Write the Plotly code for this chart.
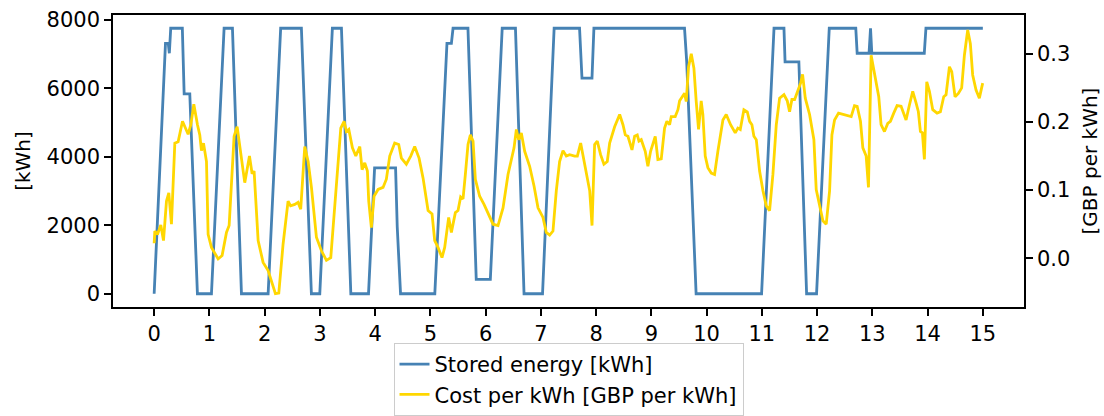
import plotly.graph_objects as go

# Stored energy [kWh] vertices (time in days)
energy_t = [0, 0.205, 0.255, 0.275, 0.30, 0.51, 0.543, 0.645, 0.783, 1.037, 1.266, 1.417, 1.58,
            2.063, 2.29, 2.665, 2.846, 2.998, 3.226, 3.39, 3.56, 3.88, 3.99, 4.37, 4.40, 4.46,
            5.08, 5.30, 5.38, 5.41, 5.68, 5.83, 6.085, 6.30, 6.54, 6.695, 7.03, 7.24, 7.70,
            7.744, 7.925, 7.96, 9.60, 9.64, 9.81, 10.995, 11.22, 11.40, 11.42, 11.67, 11.81,
            11.99, 12.22, 12.70, 12.725, 12.94, 12.967, 12.99, 13.94, 13.97, 15.0]
energy_kwh = [0, 7320, 7320, 7030, 7760, 7760, 5840, 5840, 0, 0, 7760, 7760, 0,
              0, 7760, 7760, 0, 0, 7760, 7760, 0, 0, 3680, 3680, 1950, 0,
              0, 7320, 7320, 7760, 7760, 420, 420, 7760, 7760, 0, 0, 7760, 7760,
              6300, 6300, 7760, 7760, 6770, 0, 0, 7760, 7760, 6780, 6780, 0,
              0, 7760, 7760, 7030, 7030, 7760, 7030, 7030, 7760, 7760]

# Cost per kWh [GBP per kWh] vertices
cost_t = [0, 0.012, 0.06, 0.12, 0.169, 0.223, 0.265, 0.313, 0.374, 0.434, 0.513, 0.573, 0.615,
          0.664, 0.718, 0.784, 0.826, 0.856, 0.893, 0.947, 0.977, 1.037, 1.158, 1.23, 1.309,
          1.357, 1.447, 1.502, 1.58, 1.64, 1.725, 1.773, 1.809, 1.882, 1.972, 2.063, 2.195,
          2.256, 2.334, 2.424, 2.47, 2.545, 2.605, 2.653, 2.726, 2.787, 2.847, 2.937, 3.028,
          3.118, 3.197, 3.3, 3.378, 3.438, 3.48, 3.523, 3.589, 3.65, 3.722, 3.764, 3.812,
          3.86, 3.884, 3.932, 3.98, 4.053, 4.143, 4.203, 4.264, 4.354, 4.427, 4.475, 4.565,
          4.644, 4.716, 4.795, 4.867, 4.958, 5.03, 5.078, 5.138, 5.21, 5.259, 5.331, 5.38,
          5.452, 5.5, 5.548, 5.591, 5.633, 5.681, 5.724, 5.772, 5.814, 5.892, 5.971, 6.043,
          6.134, 6.224, 6.315, 6.405, 6.466, 6.514, 6.556, 6.598, 6.646, 6.707, 6.797, 6.876,
          6.948, 7.038, 7.098, 7.159, 7.219, 7.279, 7.339, 7.4, 7.46, 7.521, 7.611, 7.66,
          7.72, 7.763, 7.823, 7.884, 7.926, 7.973, 8.021, 8.081, 8.141, 8.202, 8.245, 8.335,
          8.426, 8.486, 8.528, 8.576, 8.649, 8.697, 8.745, 8.775, 8.817, 8.889, 8.937, 8.986,
          9.07, 9.118, 9.179, 9.239, 9.281, 9.33, 9.36, 9.432, 9.481, 9.511, 9.559, 9.601,
          9.631, 9.673, 9.722, 9.77, 9.812, 9.854, 9.902, 9.932, 9.975, 10.023, 10.084,
          10.144, 10.204, 10.295, 10.355, 10.434, 10.518, 10.566, 10.609, 10.675, 10.736,
          10.778, 10.82, 10.856, 10.899, 10.959, 11.02, 11.08, 11.14, 11.2, 11.261, 11.321,
          11.4, 11.46, 11.502, 11.544, 11.593, 11.653, 11.701, 11.737, 11.786, 11.864,
          11.942, 11.984, 12.045, 12.105, 12.165, 12.226, 12.268, 12.316, 12.388, 12.497,
          12.617, 12.677, 12.725, 12.785, 12.828, 12.888, 12.93, 12.978, 13.008, 13.068,
          13.116, 13.158, 13.219, 13.279, 13.327, 13.387, 13.448, 13.52, 13.61, 13.671,
          13.731, 13.791, 13.833, 13.87, 13.906, 13.942, 13.985, 14.033, 14.093, 14.171,
          14.232, 14.292, 14.334, 14.395, 14.437, 14.497, 14.557, 14.617, 14.666, 14.726,
          14.774, 14.816, 14.877, 14.937, 14.997]
cost_gbp = [0.022, 0.040, 0.035, 0.049, 0.026, 0.084, 0.096, 0.050, 0.169, 0.171, 0.201, 0.189, 0.182,
            0.196, 0.226, 0.196, 0.181, 0.158, 0.169, 0.142, 0.035, 0.016, -0.001, 0.004, 0.038,
            0.048, 0.179, 0.193, 0.150, 0.111, 0.150, 0.124, 0.128, 0.026, -0.006, -0.018, -0.052,
            -0.051, 0.021, 0.084, 0.077, 0.079, 0.082, 0.072, 0.164, 0.142, 0.104, 0.031, 0.011,
            -0.003, 0.001, 0.104, 0.191, 0.201, 0.186, 0.189, 0.162, 0.150, 0.164, 0.130, 0.140,
            0.128, 0.084, 0.045, 0.091, 0.101, 0.104, 0.116, 0.150, 0.169, 0.167, 0.147, 0.138,
            0.150, 0.164, 0.147, 0.118, 0.070, 0.065, 0.026, 0.016, 0.001, 0.016, 0.060, 0.038,
            0.067, 0.070, 0.090, 0.087, 0.123, 0.167, 0.181, 0.172, 0.116, 0.091, 0.079, 0.065,
            0.050, 0.048, 0.074, 0.123, 0.147, 0.162, 0.189, 0.174, 0.184, 0.157, 0.135, 0.106,
            0.074, 0.060, 0.038, 0.034, 0.040, 0.099, 0.142, 0.158, 0.150, 0.152, 0.150, 0.150,
            0.169, 0.152, 0.128, 0.099, 0.048, 0.167, 0.172, 0.152, 0.138, 0.142, 0.169, 0.193,
            0.211, 0.196, 0.181, 0.179, 0.159, 0.179, 0.181, 0.172, 0.174, 0.157, 0.135, 0.157,
            0.179, 0.145, 0.146, 0.191, 0.201, 0.196, 0.208, 0.208, 0.218, 0.231, 0.237, 0.242,
            0.230, 0.281, 0.300, 0.279, 0.230, 0.189, 0.231, 0.211, 0.150, 0.133, 0.125,
            0.123, 0.157, 0.203, 0.211, 0.196, 0.184, 0.191, 0.189, 0.218, 0.215,
            0.201, 0.196, 0.179, 0.174, 0.128, 0.099, 0.077, 0.070, 0.123, 0.196, 0.235,
            0.240, 0.231, 0.215, 0.233, 0.233, 0.247, 0.257, 0.270, 0.235, 0.211,
            0.174, 0.101, 0.079, 0.055, 0.050, 0.099, 0.181, 0.203, 0.213, 0.211,
            0.208, 0.224, 0.223, 0.201, 0.162, 0.150, 0.104, 0.298, 0.284, 0.254,
            0.237, 0.196, 0.186, 0.198, 0.201, 0.213, 0.224, 0.223, 0.203, 0.225,
            0.245, 0.228, 0.215, 0.186, 0.184, 0.145, 0.259, 0.245, 0.218, 0.213,
            0.215, 0.237, 0.240, 0.281, 0.274, 0.237, 0.242, 0.250, 0.298, 0.335,
            0.315, 0.269, 0.247, 0.235, 0.257]

x_ticks = list(range(0, 16))
y1_ticks = [0, 2000, 4000, 6000, 8000]
y2_ticks = [0.0, 0.1, 0.2, 0.3]

FONT = "DejaVu Sans"
FS = 21
H = 416
TOP = 15
PLOT_BOTTOM = 307
paper_h = H - TOP  # bottom margin is 0; legend sits at the very bottom of the page
y_domain_bottom = (H - PLOT_BOTTOM) / paper_h

fig = go.Figure()
fig.add_trace(go.Scatter(x=energy_t, y=energy_kwh, mode="lines", name="Stored energy [kWh]",
                         line=dict(color="#4682B4", width=2.8), yaxis="y"))
fig.add_trace(go.Scatter(x=cost_t, y=cost_gbp, mode="lines", name="Cost per kWh [GBP per kWh]",
                         line=dict(color="#FFD700", width=2.8), yaxis="y2"))

axis_common = dict(showgrid=False, zeroline=False, showline=True, linecolor="black", linewidth=1.5,
                   ticks="outside", ticklen=7, tickwidth=1.5, tickcolor="black",
                   tickfont=dict(family=FONT, size=FS, color="black"))

fig.update_layout(
    width=1104, height=H,
    margin=dict(l=113, r=80, t=TOP, b=0),
    paper_bgcolor="white", plot_bgcolor="white",
    font=dict(family=FONT, size=FS, color="black"),
    xaxis=dict(range=[-0.745, 15.745], tickvals=x_ticks, mirror=True, anchor="y", **axis_common),
    yaxis=dict(range=[-388, 8148], tickvals=y1_ticks, domain=[y_domain_bottom, 1],
               title=dict(text="[kWh]", font=dict(family=FONT, size=20), standoff=11),
               **axis_common),
    yaxis2=dict(range=[-0.0715, 0.357], tickvals=y2_ticks, tickformat=".1f", overlaying="y",
                side="right", title=dict(text="[GBP per kWh]", font=dict(family=FONT, size=20),
                                         standoff=14),
                **axis_common),
    legend=dict(orientation="v", x=0.5, xanchor="center", y=0, yanchor="bottom",
                bgcolor="white", bordercolor="#cccccc", borderwidth=1,
                font=dict(family=FONT, size=FS), tracegroupgap=0),
    showlegend=True,
)

fig.write_html("out.html")
